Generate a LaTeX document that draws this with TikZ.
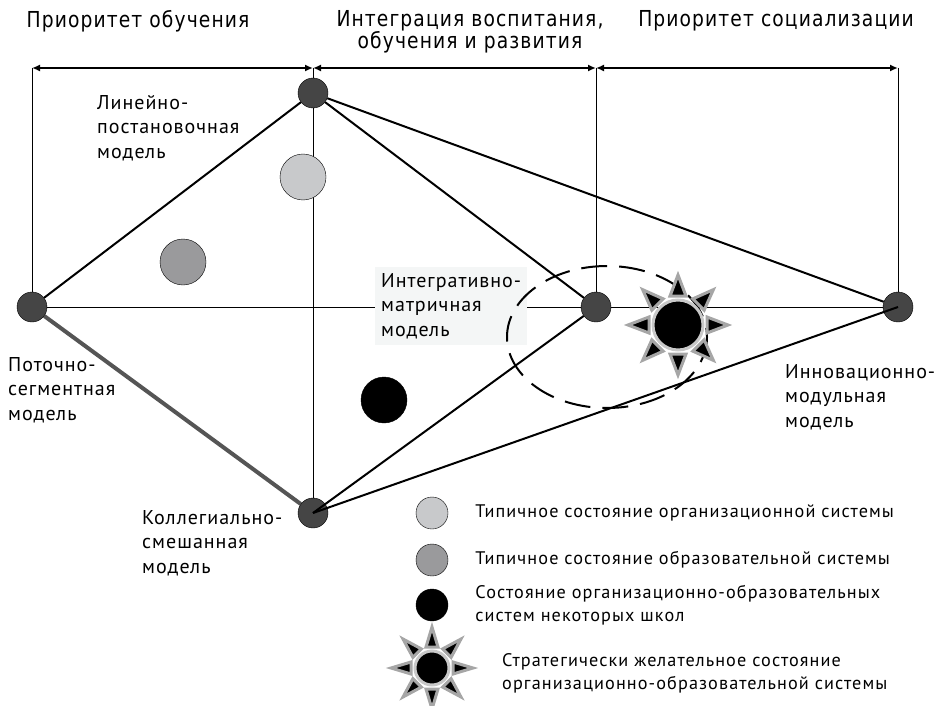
\documentclass[tikz,border=0pt]{standalone}
\usepackage{fontspec}
\setmainfont{PT Sans}
\newfontfamily\headfont{DejaVu Sans}[FakeStretch=0.85,LetterSpace=5]
\newfontfamily\modelfont{PT Sans}[LetterSpace=5]
\newfontfamily\legfont{PT Sans}[LetterSpace=6]
\usepackage{tikz}
\usetikzlibrary{arrows.meta,shapes,positioning,calc,backgrounds}
\definecolor{vgray}{HTML}{454545}
\definecolor{lightst}{HTML}{C8C9CB}
\definecolor{midst}{HTML}{9A9A9C}
\definecolor{raygray}{HTML}{A6A6A6}
\definecolor{ringgray}{HTML}{C8C8C8}
\definecolor{boxbg}{HTML}{F4F6F6}
\definecolor{pathgray}{HTML}{555555}

\begin{document}
\begin{tikzpicture}[
    x=1pt, y=-1pt,
    vertex/.style={circle, draw, fill=vgray, minimum size=30pt, inner sep=0pt},
    state/.style={circle, draw, minimum size=46pt, inner sep=0pt},
    key/.style={circle, draw, minimum size=32pt, inner sep=0pt},
    model/.style={anchor=north west, inner sep=0pt, align=left, font=\modelfont\fontsize{20}{24.5}\selectfont},
    head/.style={anchor=north, inner sep=0pt, align=center, font=\headfont\fontsize{22}{21.5}\selectfont},
    legend/.style={anchor=west, inner sep=0pt, align=left, font=\legfont\fontsize{18.2}{23}\selectfont},
    edge/.style={line width=2pt},
    guide/.style={line width=1pt},
    span/.style={{Latex[length=8pt,width=7pt]}-{Latex[length=8pt,width=7pt]}, line width=2pt},
    sun r/.store in=\sunr, sun tip/.store in=\suntip, sun half/.store in=\sunhalf,
    sun r=25, sun tip=50, sun half=8,
    sun/.pic={
      \foreach \a in {0,45,...,315}
        \filldraw[rotate=\a, draw=raygray, fill=black, line width=3pt, line join=miter]
          (\sunr+4,-\sunhalf) -- (\suntip,0) -- (\sunr+4,\sunhalf) -- cycle;
      \filldraw[draw=ringgray, fill=black, line width=3pt] (0,0) circle[radius=\sunr pt];
    }
]
\useasboundingbox (0,0) rectangle (942,706);

% Headings
\node[head] (h1) at (138,10) {Приоритет обучения};
\node[head] (h2) at (470,10) {Интеграция воспитания,\\обучения и развития};
\node[head] (h3) at (776,10) {Приоритет социализации};

% Span ends
\coordinate (s0) at (32,68);
\coordinate (s1) at (313,68);
\coordinate (s2) at (596,68);
\coordinate (s3) at (898,68);

% Models
\node[vertex] (T) at (313,93) {};
\node[vertex] (L) at (32,307) {};
\node[vertex] (M) at (596,307) {};
\node[vertex] (R) at (898,307) {};
\node[vertex] (B) at (313,513) {};

\node[model] (Tlbl) at (97,95) {Линейно-\\постановочная\\модель};
\node[model] (Llbl) at (8,357) {Поточно-\\сегментная\\модель};
\node[model] (Blbl) at (142,510) {Коллегиально-\\смешанная\\модель};
\node[model] (Rlbl) at (785,364) {Инновационно-\\модульная\\модель};
\node[model, fill=boxbg, inner sep=6pt] (Mlbl) at (375,267) {Интегративно-\\матричная\\модель};

% States
\node[state, fill=lightst] (org) at (303,177) {};
\node[state, fill=midst] (edu) at (183,262) {};
\node[state, fill=black] (some) at (384,400) {};
\coordinate (goal) at (678,325);

% Lines behind
\begin{scope}[on background layer]
\draw[guide] (s0) -- (L);
\draw[guide] (s1) -- (B);
\draw[guide] (s2) -- (M);
\draw[guide] (s3) -- (R);
\draw[guide] (L) -- (R);
\draw[edge] (T) -- (L);
\draw[edge] (T) -- (M);
\draw[edge] (T) -- (R);
\draw[line width=4pt, pathgray] (L) -- (B);
\end{scope}

% Spans
\draw[span] (s0) -- (s1);
\draw[span] (s1) -- (s2);
\draw[span] (s2) -- (s3);

\draw[edge] (B.center) -- (M);
\draw[edge] (B.center) -- (R.center);

% Target zone
\draw[line width=2pt, dash pattern=on 26pt off 12pt] (607,337) ellipse [x radius=100, y radius=71];
\pic at (goal) {sun};

% Legend
\node[key, fill=lightst] (k1) at (432,513) {};
\node[key, fill=midst] (k2) at (432,560) {};
\node[key, fill=black] (k3) at (432,605) {};
\coordinate (k4) at (432,668);
\pic[sun r=17, sun tip=41, sun half=6] at (k4) {sun};

\node[legend, right=27pt of k1] (t1) {Типичное состояние организационной системы};
\node[legend, right=27pt of k2] (t2) {Типичное состояние образовательной системы};
\node[legend, right=27pt of k3] (t3) {Состояние организационно-образовательных\\систем некоторых школ};
\node[legend] (t4) at (502,673) {Стратегически желательное состояние\\организационно-образовательной системы};

\end{tikzpicture}
\end{document}
